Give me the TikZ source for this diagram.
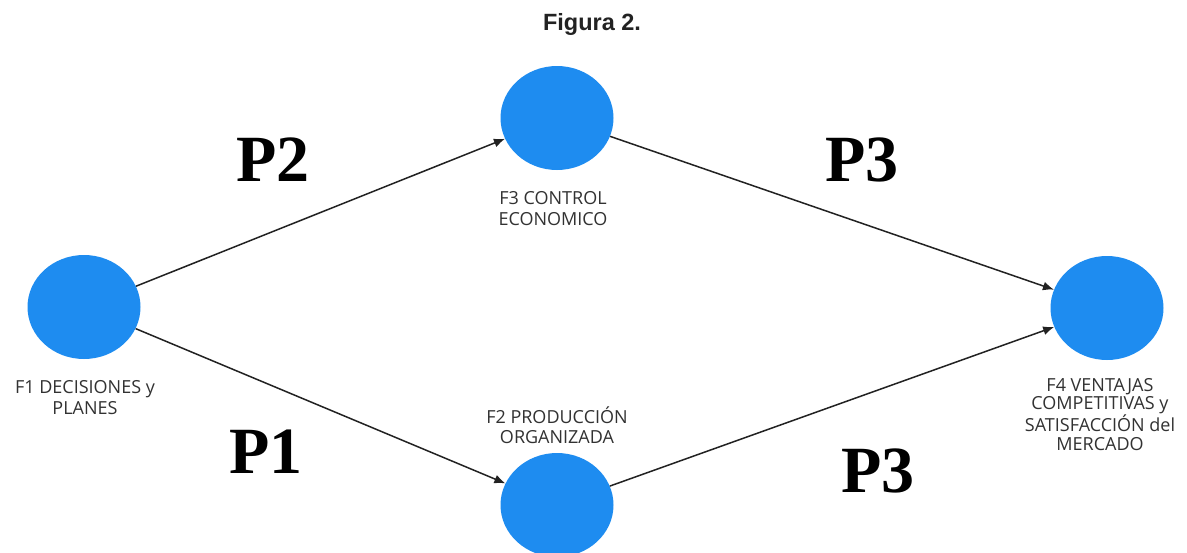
\documentclass[tikz,border=0pt]{standalone}
\usepackage{fontspec}
\setmainfont{Liberation Serif}
\newfontfamily\titlefont{Liberation Sans}
\newfontfamily\labelfont{Open Sans}
\usetikzlibrary{arrows.meta,shapes.geometric}
\definecolor{nodeblue}{RGB}{30,140,240}
\definecolor{linegray}{RGB}{34,34,34}
\definecolor{labelgray}{RGB}{50,50,50}
\tikzset{
  factor/.style={ellipse,fill=nodeblue,draw=none,minimum width=113pt,minimum height=104pt,inner sep=0pt},
  flabel/.style={align=center,inner sep=0pt,text=labelgray,font=\labelfont\fontsize{18}{20.5}\selectfont},
  plabel/.style={inner sep=0pt,text=black,font=\bfseries\fontsize{66}{70}\selectfont},
  link/.style={draw=linegray,line width=1.5pt,-{Latex[length=11pt,width=9pt]}}
}
\begin{document}
\begin{tikzpicture}[x=1pt,y=-1pt]
\useasboundingbox (0,0) rectangle (1187,552);
\fill[white] (0,0) rectangle (1187,552);
\node[inner sep=0pt,text=linegray,font=\titlefont\bfseries\fontsize{23.5}{26}\selectfont] (title) at (592,24) {Figura 2.};
\node[factor] (f1) at (84,307) {};
\node[factor] (f3) at (557,118) {};
\node[factor] (f2) at (557,505) {};
\node[factor] (f4) at (1107,308) {};
\node[flabel] (l1) at (85,397.5) {F1 DECISIONES y\\PLANES};
\node[flabel] (l3) at (553,208.5) {F3 CONTROL\\ECONOMICO};
\node[flabel] (l2) at (557,425) {F2 PRODUCCIÓN\\ORGANIZADA};
\node[flabel,font=\labelfont\fontsize{18}{18.6}\selectfont] (l4) at (1100,414.5) {F4 VENTAJAS\\COMPETITIVAS y\\SATISFACCIÓN del\\MERCADO};
\draw[link] (f1) -- (f3);
\draw[link] (f1) -- (f2);
\draw[link] (f3) -- (f4);
\draw[link] (f2) -- (f4);
\node[plabel] (p2) at (273,160) {P2};
\node[plabel] (p3a) at (862,160) {P3};
\node[plabel] (p1) at (266,452) {P1};
\node[plabel] (p3b) at (878,471) {P3};
\end{tikzpicture}
\end{document}
